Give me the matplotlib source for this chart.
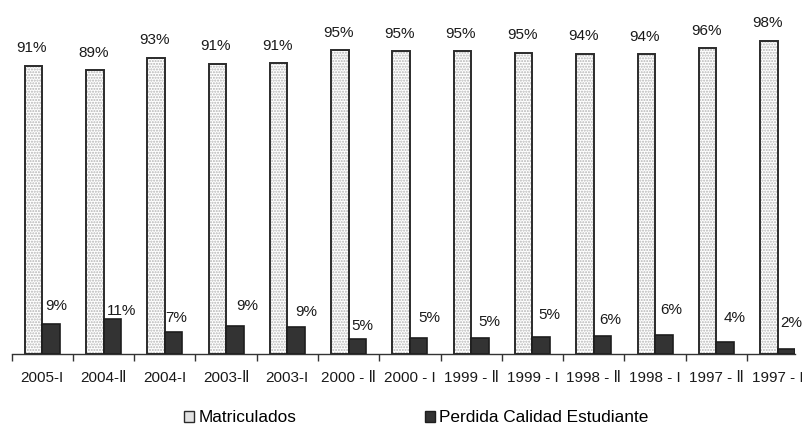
import matplotlib
matplotlib.use("Agg")
import matplotlib.pyplot as plt
import numpy as np
from matplotlib.patches import Patch

plt.rcParams['font.family'] = ['Liberation Sans', 'DejaVu Sans']

categories = ["2005-I", "2004-Ⅱ", "2004-I", "2003-Ⅱ", "2003-I", "2000 - Ⅱ", "2000 - I",
              "1999 - Ⅱ", "1999 - I", "1998 - Ⅱ", "1998 - I", "1997 - Ⅱ", "1997 - I"]
matriculados = [90.6, 89.1, 93.1, 91.2, 91.4, 95.4, 95.1, 95.1, 94.7, 94.4, 94.1, 96.1, 98.4]
perdida = [9.4, 10.9, 6.9, 8.8, 8.6, 4.6, 4.9, 4.9, 5.3, 5.6, 5.9, 3.9, 1.6]

# label placement tweaks (pixels) for the dark-bar labels
dark_gap_px = [14, 4, 10, 15.7, 10.6, 9.3, 16, 12.6, 17.7, 12.4, 21, 19.4, 22]
dark_dx_px = [3, 3.4, 0, 10, 7.7, 3, 8, 7.6, 6, 5, 5.7, 7.6, 2.7]

W, H = 803, 428
fig = plt.figure(figsize=(W / 100, H / 100), dpi=100)
left_px, right_px, base_px, top_px = 11.6, 795, 354, 35.7
ax = fig.add_axes([left_px / W, 1 - base_px / H, (right_px - left_px) / W, (base_px - top_px) / H])

unit = 61.28
x = np.arange(len(categories))
bw = 17.5 / unit
xl = x - bw / 2
xd = x + bw / 2

LBL = 11
# light bars: dotted fill, then outline
ax.bar(xl, matriculados, width=bw, color='white', edgecolor='#b4b4b4', hatch='......', linewidth=0, zorder=2)
ax.bar(xl, matriculados, width=bw, facecolor='none', edgecolor='#2b2b2b', linewidth=1.4, zorder=3)
ax.bar(xd, perdida, width=bw, color='#333333', edgecolor='#1e1e1e', linewidth=1.2, zorder=3)

for i in range(len(categories)):
    ax.annotate(f"{matriculados[i]:.0f}%", (xl[i], matriculados[i]), xytext=(-1.1, 13.5 * 0.72),
                textcoords='offset points', ha='center', va='baseline', fontsize=LBL, color='#1a1a1a')
    ax.annotate(f"{perdida[i]:.0f}%", (xd[i] - bw / 2, perdida[i]),
                xytext=(dark_dx_px[i] * 0.72, dark_gap_px[i] * 0.72),
                textcoords='offset points', ha='left', va='baseline', fontsize=LBL, color='#1a1a1a')

ax.set_xlim(-0.5, -0.5 + (right_px - left_px) / unit)
ax.set_ylim(0, 100)
for s in ['top', 'right', 'left']:
    ax.spines[s].set_visible(False)
ax.spines['bottom'].set_color('#333333')
ax.spines['bottom'].set_linewidth(1.0)
ax.set_yticks([])
ax.set_xticks(x)
ax.set_xticklabels(categories, fontsize=LBL, color='#1a1a1a')
ax.tick_params(axis='x', which='major', length=0, pad=12.5)
ax.set_xticks(np.arange(-0.5, 12.5, 1.0), minor=True)
ax.tick_params(axis='x', which='minor', length=5, width=1, color='#333333', direction='out')

handles = [Patch(facecolor='#e2e2e2', edgecolor='#2b2b2b', linewidth=1.0, label='Matriculados'),
           Patch(facecolor='#333333', edgecolor='#1e1e1e', linewidth=1.0, label='Perdida Calidad Estudiante')]
fig.legend(handles=handles, loc='center', bbox_to_anchor=(416.5 / W, 1 - 418 / H), ncol=2, frameon=False,
           fontsize=12.4, handlelength=0.58, handleheight=0.58, handletextpad=0.25, columnspacing=7.45,
           borderpad=0, borderaxespad=0)

fig.savefig("out.png", dpi=100)
